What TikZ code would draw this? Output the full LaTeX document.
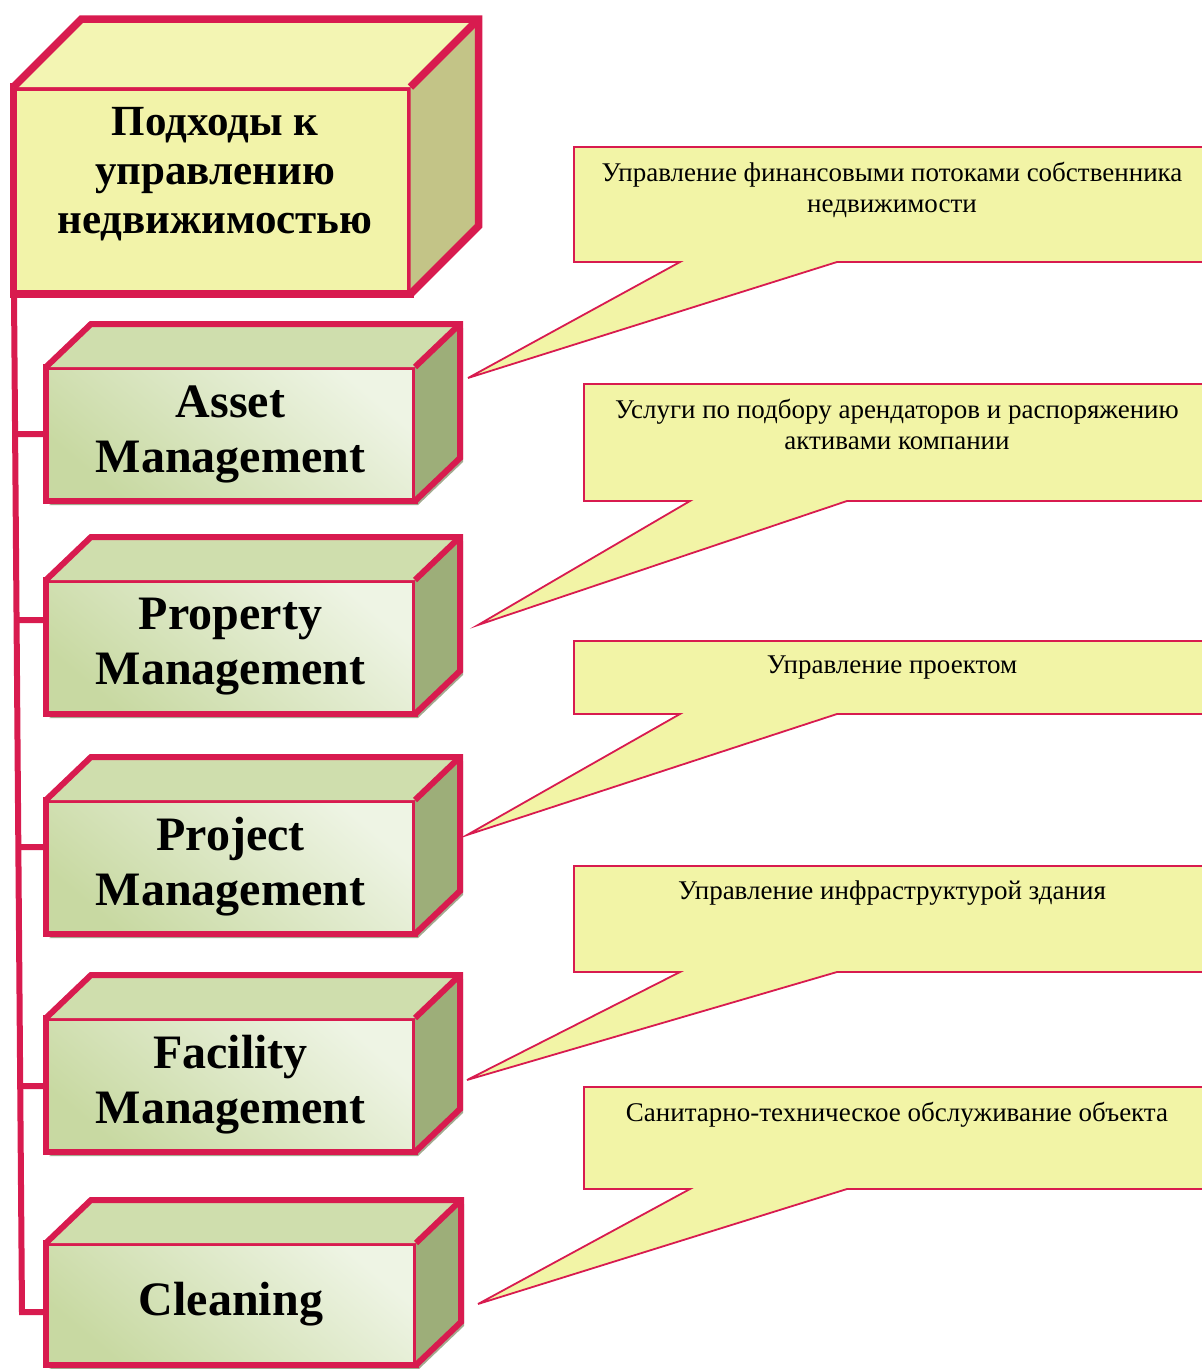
\documentclass[tikz,border=0pt]{standalone}
\usepackage{fontspec}
\setmainfont{Liberation Serif}
\usetikzlibrary{positioning,calc,backgrounds}

\definecolor{rim}{HTML}{D81B4F}
\definecolor{headfill}{HTML}{F2F3A9}
\definecolor{headtop}{HTML}{F3F5B3}
\definecolor{headside}{HTML}{C3C487}
\definecolor{grlight}{HTML}{EEF4E4}
\definecolor{grdark}{HTML}{C8D9A2}
\definecolor{grtop}{HTML}{CFDEAD}
\definecolor{grside}{HTML}{9DAE79}
\definecolor{grshadow}{HTML}{A3AA90}
\definecolor{callfill}{HTML}{F2F4A6}

\tikzset{
  headbox/.style={draw=rim, line width=7.5pt, fill=headfill, outer sep=0pt,
    inner sep=0pt, anchor=north west, minimum width=397pt, minimum height=207pt},
  headface/.style={draw=rim, line width=7.5pt, line join=miter},
  headtext/.style={inner sep=0pt, align=center,
    font=\fontsize{43}{49}\selectfont\bfseries},
  greenbox/.style={draw=rim, line width=6pt, outer sep=0pt, inner sep=0pt,
    anchor=north west, minimum width=369pt, minimum height=134pt,
    bottom color=grdark, top color=grlight, shading angle=-40,
    align=center, font=\fontsize{48}{55}\selectfont\bfseries},
  greenface/.style={draw=rim, line width=6pt, line join=miter},
  link/.style={draw=rim, line width=6pt, line join=miter},
  callbox/.style={inner sep=0pt, outer sep=0pt, anchor=north west},
  callout/.style={draw=rim, line width=1.8pt, fill=callfill, line join=miter},
  calltext/.style={inner sep=0pt, align=center,
    font=\fontsize{27}{31}\selectfont}
}

\begin{document}
\begin{tikzpicture}[x=1pt, y=-1pt]
  \useasboundingbox (0,0) rectangle (1202,1369);

  % head box
  \node[headbox] (head) at (13.5,87) {};
  \fill[headtop] (head.north west) -- ++(68,-68)
    -- ($(head.north east)+(68,-68)$) -- (head.north east) -- cycle;
  \fill[headside] (head.north east) -- ++(68,-68)
    -- ($(head.south east)+(68,-68)$) -- (head.south east) -- cycle;
  \draw[headface] (head.north west) -- ++(68,-68) -- ($(head.north east)+(68,-68)$)
    -- ($(head.south east)+(68,-68)$) -- (head.south east);
  \draw[headface] (head.north east) -- ++(68,-68);
  \node[headtext, below=20pt of head.north, xshift=3pt] (headlbl)
    {Подходы к\\управлению\\недвижимостью};

  % approaches
  \node[greenbox] (asset) at (46,367) {Asset\\Management};
  \node[greenbox] (prop) at (46,580) {Property\\Management};
  \node[greenbox] (proj) at (46,800) {Project\\Management};
  \node[greenbox] (fac) at (46,1018) {Facility\\Management};
  \node[greenbox, minimum width=370pt, minimum height=122pt] (clean) at (46,1243) {Cleaning};

  \foreach \b in {asset,prop,proj,fac,clean} {
    \begin{pgfonlayer}{background}
      \fill[grshadow] ($(\b.south west)+(3,4)$) -- ($(\b.south east)+(3,4)$)
        -- ($(\b.south east)+(48,-39)$) -- ($(\b.north east)+(48,-39)$)
        -- ($(\b.north east)+(45,-43)$) -- cycle;
    \end{pgfonlayer}
    \fill[grtop] (\b.north west) -- ++(45,-43)
      -- ($(\b.north east)+(45,-43)$) -- (\b.north east) -- cycle;
    \fill[grside] (\b.north east) -- ++(45,-43)
      -- ($(\b.south east)+(45,-43)$) -- (\b.south east) -- cycle;
    \draw[greenface] (\b.north west) -- ++(45,-43) -- ($(\b.north east)+(45,-43)$)
      -- ($(\b.south east)+(45,-43)$) -- (\b.south east);
    \draw[greenface] (\b.north east) -- ++(45,-43);
  }

  % spine
  \coordinate (sptop) at ($(head.south west)+(0.5,0)$);
  \coordinate (spbot) at ($(clean.north west)+(-24,69)$);
  \draw[link] (sptop) -- (spbot) -- ($(clean.north west)+(0,69)$);
  \draw[link] (asset.west) -- ($(sptop)!(asset.west)!(spbot)$);
  \draw[link] ($(prop.north west)+(0,40)$) -- ($(sptop)!($(prop.north west)+(0,40)$)!(spbot)$);
  \draw[link] ($(proj.north west)+(0,47)$) -- ($(sptop)!($(proj.north west)+(0,47)$)!(spbot)$);
  \draw[link] ($(fac.north west)+(0,68)$) -- ($(sptop)!($(fac.north west)+(0,68)$)!(spbot)$);

  % callouts
  \coordinate (p1) at ($(asset.north east)+(53,11)$);
  \coordinate (p2) at ($(prop.north east)+(63,45)$);
  \coordinate (p3) at ($(proj.north east)+(52,35)$);
  \coordinate (p4) at ($(fac.north east)+(52,62)$);
  \coordinate (p5) at ($(clean.north east)+(62,61)$);

  \node[callbox, minimum width=636pt, minimum height=115pt] (c1) at (574,147) {};
  \node[callbox, minimum width=626pt, minimum height=117pt] (c2) at (584,384) {};
  \node[callbox, minimum width=636pt, minimum height=73pt] (c3) at (574,641) {};
  \node[callbox, minimum width=636pt, minimum height=106pt] (c4) at (574,866) {};
  \node[callbox, minimum width=626pt, minimum height=102pt] (c5) at (584,1087) {};

  \foreach \c/\p in {c1/p1,c2/p2,c3/p3,c4/p4,c5/p5}
    \filldraw[callout] (\c.north west) -- (\c.north east) -- (\c.south east)
      -- ($(\c.south west)+(263,0)$) -- (\p) -- ($(\c.south west)+(106,0)$)
      -- (\c.south west) -- cycle;

  \node[calltext, below=15pt of c1.north] (t1)
    {Управление финансовыми потоками собственника\\недвижимости};
  \node[calltext, below=15pt of c2.north] (t2)
    {Услуги по подбору арендаторов и распоряжению\\активами компании};
  \node[calltext, below=15pt of c3.north] (t3) {Управление проектом};
  \node[calltext, below=15pt of c4.north] (t4) {Управление инфраструктурой здания};
  \node[calltext, below=15pt of c5.north] (t5) {Санитарно-техническое обслуживание объекта};
\end{tikzpicture}
\end{document}
